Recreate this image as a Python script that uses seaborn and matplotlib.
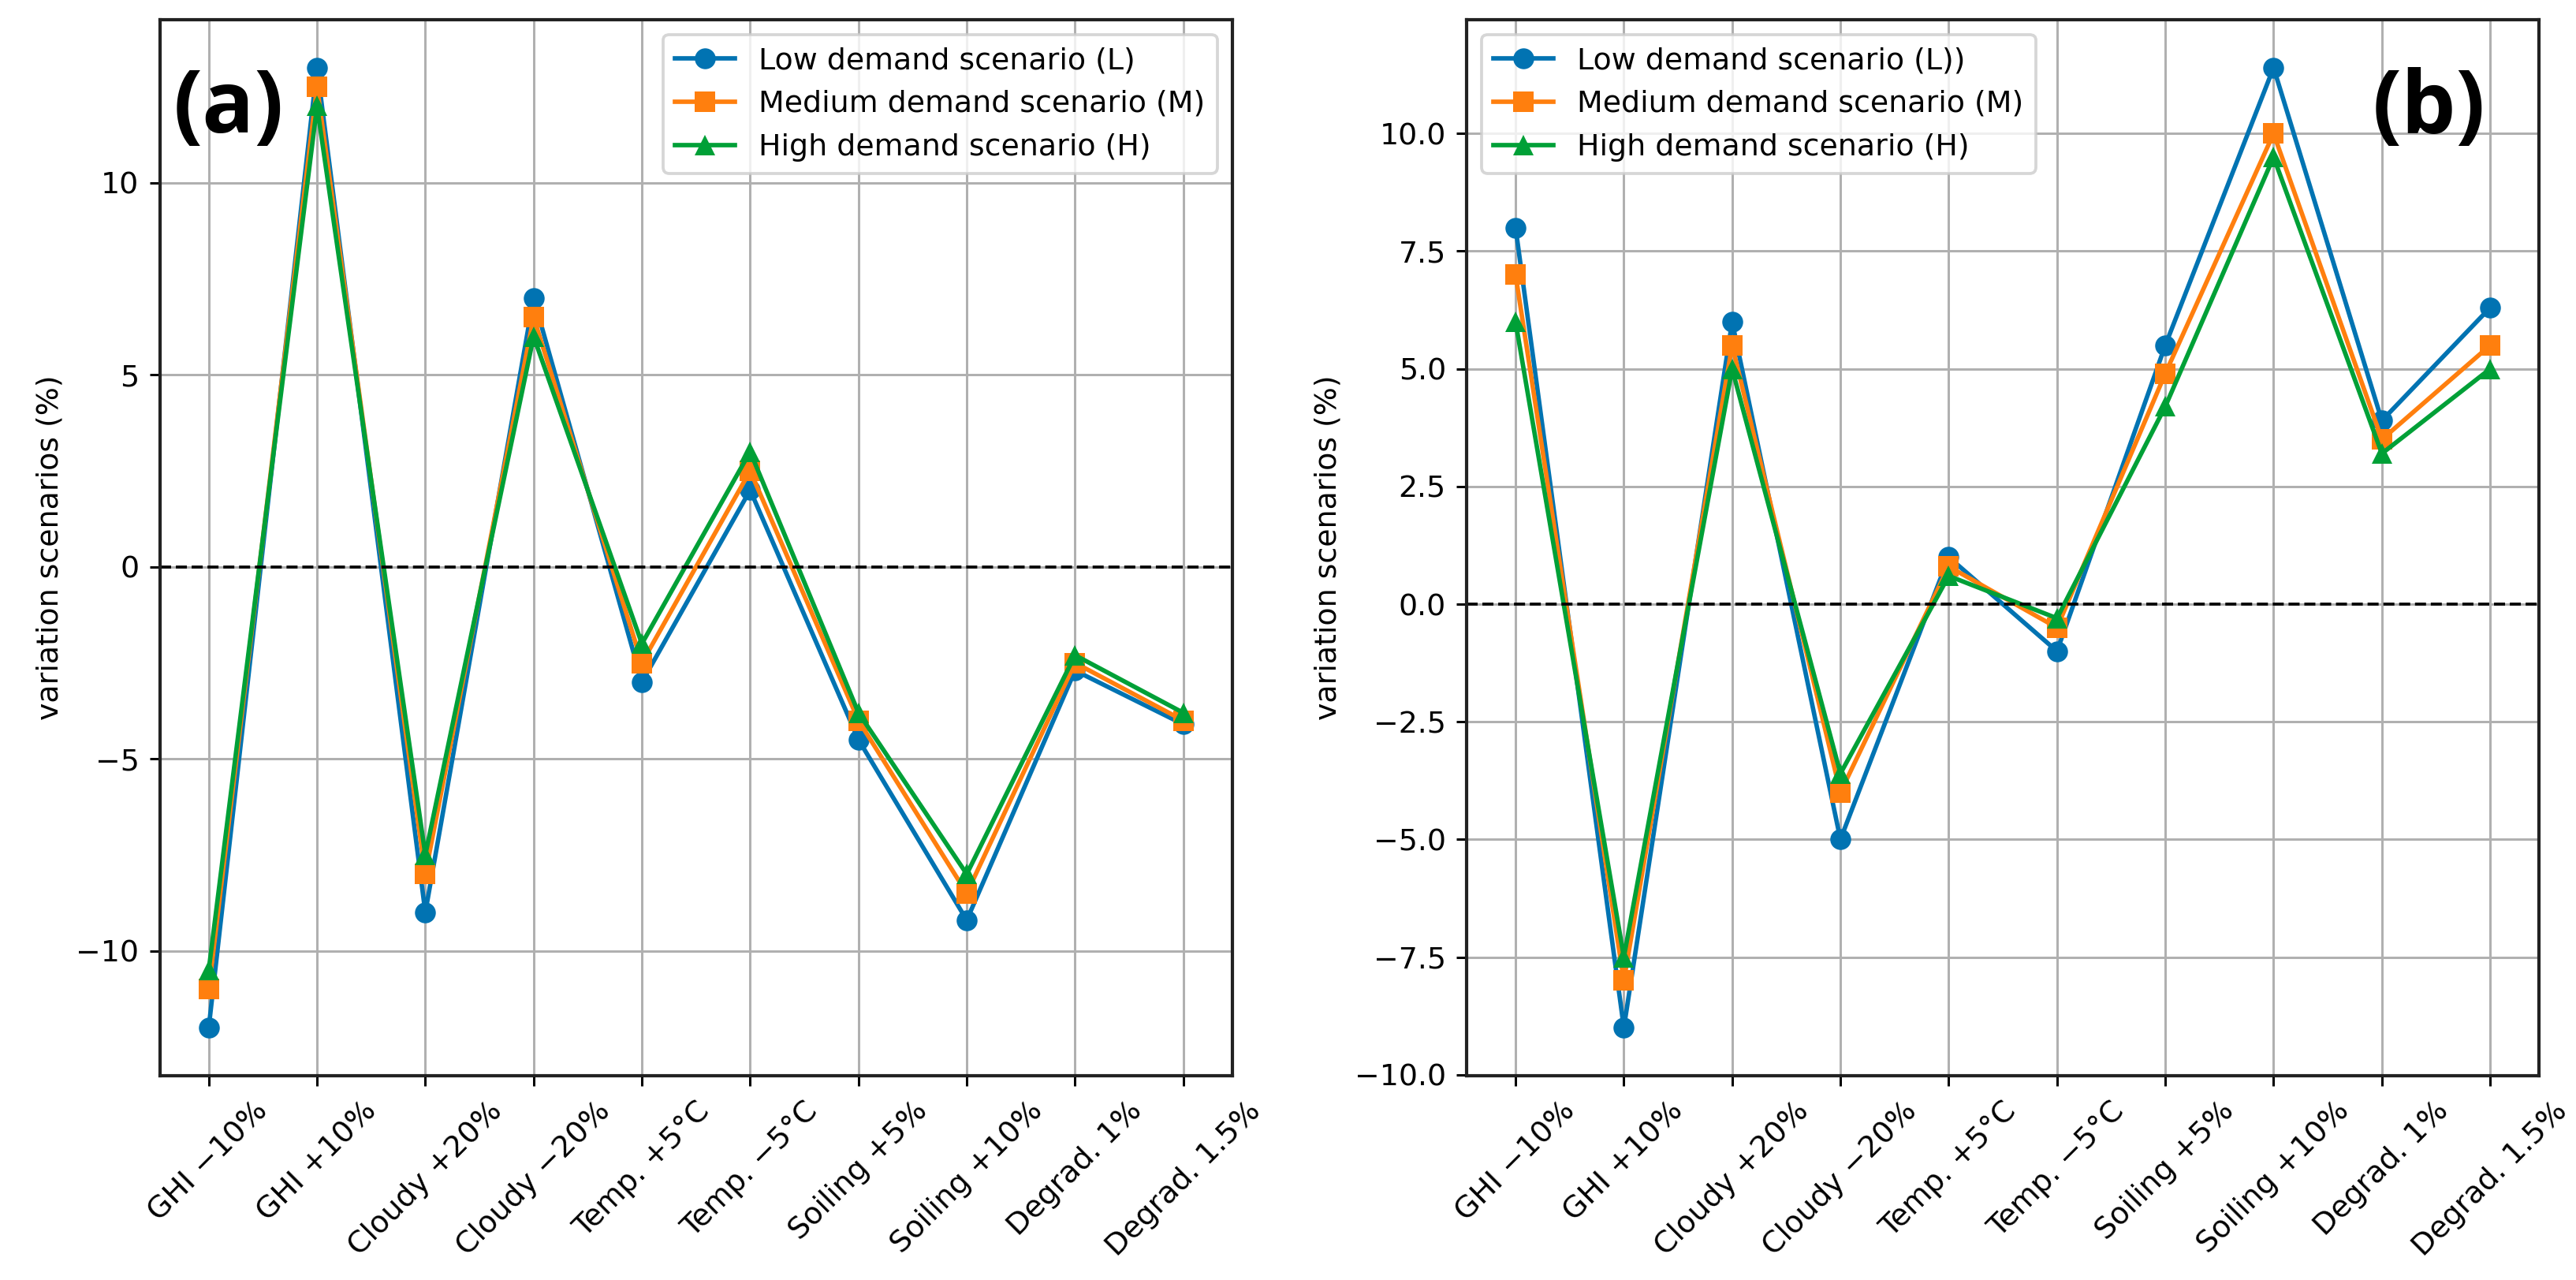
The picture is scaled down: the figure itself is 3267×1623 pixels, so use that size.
import pandas as pd
import seaborn as sns
import matplotlib.pyplot as plt

# scenario labels on the x axis
scenarios = ['GHI \u221210%', 'GHI +10%', 'Cloudy +20%', 'Cloudy \u221220%',
             'Temp. +5°C', 'Temp. \u22125°C', 'Soiling +5%', 'Soiling +10%',
             'Degrad. 1%', 'Degrad. 1.5%']

# panel (a)
low_a = [-12.0, 13.0, -9.0, 7.0, -3.0, 2.0, -4.5, -9.2, -2.7, -4.1]
med_a = [-11.0, 12.5, -8.0, 6.5, -2.5, 2.5, -4.0, -8.5, -2.5, -4.0]
high_a = [-10.5, 12.0, -7.5, 6.0, -2.0, 3.0, -3.8, -8.0, -2.3, -3.8]

# panel (b)
low_b = [8.0, -9.0, 6.0, -5.0, 1.0, -1.0, 5.5, 11.4, 3.9, 6.3]
med_b = [7.0, -8.0, 5.5, -4.0, 0.8, -0.5, 4.9, 10.0, 3.5, 5.5]
high_b = [6.0, -7.5, 5.0, -3.6, 0.6, -0.3, 4.2, 9.5, 3.2, 5.0]

labels_a = ['Low demand scenario (L)', 'Medium demand scenario (M)', 'High demand scenario (H)']
labels_b = ['Low demand scenario (L))', 'Medium demand scenario (M)', 'High demand scenario (H)']

colors = ['#0173B2', '#FF7F0E', '#00A037']
markers = ['o', 's', '^']


def long_df(series, labels):
    rows = []
    for vals, lab in zip(series, labels):
        for sc, v in zip(scenarios, vals):
            rows.append({'Scenario': sc, 'Value': v, 'Series': lab})
    return pd.DataFrame(rows)


def panel(ax, df, labels, tag, legend_loc, tag_x, tag_ha):
    sns.lineplot(data=df, x='Scenario', y='Value', hue='Series', style='Series',
                 hue_order=labels, style_order=labels,
                 palette=dict(zip(labels, colors)),
                 markers=dict(zip(labels, markers)), dashes=False,
                 markersize=7, linewidth=1.5, markeredgewidth=0,
                 sort=False, ax=ax)
    ax.axhline(0, color='black', linestyle='--', linewidth=1)
    ax.grid(True, color='#b0b0b0', linewidth=0.8)
    ax.set_axisbelow(True)
    ax.set_xlabel('')
    ax.set_ylabel('variation scenarios (%)')
    ax.tick_params(axis='x', rotation=45)
    for sp in ax.spines.values():
        sp.set_color('#222222')
        sp.set_linewidth(1.1)
    ax.legend(loc=legend_loc, fontsize=10)
    ax.text(tag_x, 0.955, tag, transform=ax.transAxes, ha=tag_ha, va='top',
            fontsize=29, fontweight='bold', family=['Open Sans', 'DejaVu Sans'])


plt.rcParams['font.size'] = 10
fig, (ax1, ax2) = plt.subplots(1, 2, figsize=(12, 5.96))
fig.subplots_adjust(left=0.0621, right=0.9853, bottom=0.1596, top=0.9846, wspace=0.219)

panel(ax1, long_df([low_a, med_a, high_a], labels_a), labels_a, '(a)', 'upper right', 0.012, 'left')
panel(ax2, long_df([low_b, med_b, high_b], labels_b), labels_b, '(b)', 'upper left', 0.95, 'right')

fig.savefig('out.png', dpi=272.33)
